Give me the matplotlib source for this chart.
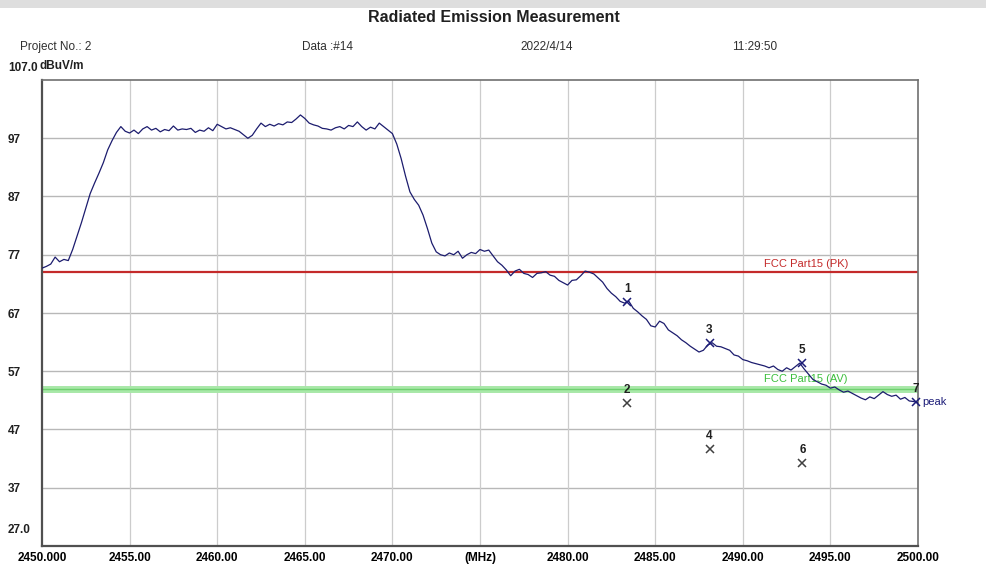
import numpy as np
import matplotlib
matplotlib.use("Agg")
import matplotlib.pyplot as plt
from matplotlib.patches import Rectangle
from matplotlib.transforms import blended_transform_factory

plt.rcParams['font.family'] = ['Liberation Sans', 'DejaVu Sans']

# sweep: 2450 - 2500 MHz, 0.25 MHz steps
freq = np.arange(2450.0, 2500.01, 0.25)
level = [
    74.7, 75.0, 75.4, 76.6, 75.8, 76.2, 76.0, 77.9, 80.2, 82.5,
    85.0, 87.5, 89.3, 91.0, 92.8, 95.0, 96.6, 98.0, 99.0, 98.2,
    97.9, 98.4, 97.8, 98.6, 99.0, 98.4, 98.7, 98.1, 98.5, 98.3,
    99.1, 98.4, 98.6, 98.5, 98.7, 98.0, 98.4, 98.2, 98.8, 98.3,
    99.4, 99.0, 98.6, 98.8, 98.5, 98.2, 97.6, 97.0, 97.5, 98.6,
    99.6, 99.0, 99.4, 99.1, 99.5, 99.3, 99.8, 99.7, 100.3, 101.0,
    100.4, 99.6, 99.3, 99.1, 98.7, 98.6, 98.4, 98.8, 99.0, 98.6,
    99.2, 99.0, 99.8, 99.0, 98.4, 98.9, 98.6, 99.6, 99.0, 98.4,
    97.8, 96.0, 93.5, 90.5, 87.8, 86.5, 85.5, 83.8, 81.5, 79.0,
    77.5, 77.0, 76.8, 77.3, 77.0, 77.6, 76.4, 77.0, 77.4, 77.2,
    77.9, 77.6, 77.8, 76.8, 75.8, 75.2, 74.4, 73.4, 74.2, 74.5,
    73.8, 73.6, 73.1, 73.8, 73.9, 74.1, 73.5, 73.3, 72.6, 72.2,
    71.8, 72.6, 72.7, 73.4, 74.2, 74.0, 73.7, 73.0, 72.3, 71.2,
    70.4, 69.8, 69.0, 68.7, 69.0, 67.8, 67.2, 66.5, 65.9, 64.8,
    64.6, 65.6, 65.2, 64.1, 63.6, 63.1, 62.4, 61.9, 61.3, 60.8,
    60.3, 60.6, 61.5, 61.9, 61.3, 61.2, 60.9, 60.6, 59.8, 59.6,
    59.0, 58.8, 58.5, 58.3, 58.1, 57.9, 57.6, 57.9, 57.3, 57.0,
    57.6, 57.2, 57.8, 58.4, 57.4, 56.5, 55.6, 55.2, 54.8, 54.6,
    54.1, 54.3, 53.8, 53.4, 53.6, 53.2, 52.8, 52.4, 52.1, 52.6,
    52.3, 52.9, 53.5, 53.0, 52.7, 52.9, 52.2, 52.5, 51.9, 51.8,
    51.6,
]

# limits
pk_limit = 74
av_limit = 54

# markers
mark_no = ["1", "2", "3", "4", "5", "6", "7"]
mark_freq = [2483.4, 2483.4, 2488.1, 2488.1, 2493.4, 2493.4, 2499.9]
mark_level = [68.9, 51.5, 61.8, 43.6, 58.4, 41.2, 51.7]
mark_color = ["#1c1c78", "#404040", "#1c1c78", "#404040", "#1c1c78", "#404040", "#1c1c78"]

x_ticks = [2450, 2455, 2460, 2465, 2470, 2475, 2480, 2485, 2490, 2495, 2500]
x_labels = ["2450.000", "2455.00", "2460.00", "2465.00", "2470.00", "(MHz)",
            "2480.00", "2485.00", "2490.00", "2495.00", "2500.00"]
y_ticks = [37, 47, 57, 67, 77, 87, 97]

fig = plt.figure(figsize=(9.87, 5.67), dpi=100)
fig.patch.set_facecolor("white")
fig.patches.append(Rectangle((0, 1 - 8 / 567), 1, 8 / 567, transform=fig.transFigure,
                             facecolor="#dedede", edgecolor="none"))

ax = fig.add_axes([42 / 987, 21 / 567, 876 / 987, 466 / 567])
ax.set_xlim(2450, 2500)
ax.set_ylim(27, 107)

for y in y_ticks:
    ax.axhline(y, color="#b8b8b8", lw=1.0, zorder=1)
for x in x_ticks[1:-1]:
    ax.axvline(x, color="#cccccc", lw=0.9, zorder=1)

ax.axhline(av_limit, color="#a8e8a8", lw=5, zorder=2)
ax.axhline(av_limit, color="#6fd06f", lw=1.0, zorder=2)
ax.axhline(pk_limit, color="#c42a2a", lw=1.6, zorder=2)
ax.text(2493.6, pk_limit + 0.6, "FCC Part15 (PK)", color="#c42a2a", fontsize=8,
        ha="center", va="bottom", zorder=3)
ax.text(2493.6, av_limit + 0.8, "FCC Part15 (AV)", color="#3cbf3c", fontsize=8,
        ha="center", va="bottom", zorder=3)

ax.plot(freq, level, color="#1c1c6e", lw=0.9, zorder=4)

for n, f, v, c in zip(mark_no, mark_freq, mark_level, mark_color):
    ax.plot(f, v, marker="x", color=c, ms=6, mew=1.1, zorder=5, clip_on=False)
    ax.annotate(n, (f, v), xytext=(0, 5), textcoords="offset points", ha="center",
                va="bottom", fontsize=8.5, fontweight="bold", color="#202020",
                annotation_clip=False)
ax.annotate("peak", (mark_freq[-1], mark_level[-1]), xytext=(4, 0), textcoords="offset points",
            ha="left", va="center", fontsize=8, color="#1c1c78", annotation_clip=False)

ax.set_xticks(x_ticks)
ax.set_xticklabels(x_labels, fontsize=8.5, fontweight="bold")
ax.set_yticks([])
ax.tick_params(length=0, pad=4)

# y labels sit at the far left, left-aligned
ylab_tr = blended_transform_factory(fig.transFigure, ax.transData)
for y in y_ticks:
    ax.text(8 / 987, y - 0.3, str(y), transform=ylab_tr, ha="left", va="center",
            fontsize=8.5, fontweight="bold", color="#202020", clip_on=False)

for side in ["left", "bottom"]:
    ax.spines[side].set_color("#505050")
    ax.spines[side].set_linewidth(1.6)
for side in ["top", "right"]:
    ax.spines[side].set_color("#707070")
    ax.spines[side].set_linewidth(1.2)

fig.text(0.5, 1 - 17 / 567, "Radiated Emission Measurement", ha="center", va="center",
         fontsize=11.5, fontweight="bold", color="#202020")
fig.text(20 / 987, 1 - 47 / 567, "Project No.: 2", fontsize=8.5, va="center", color="#303030")
fig.text(302 / 987, 1 - 47 / 567, "Data :#14", fontsize=8.5, va="center", color="#303030")
fig.text(520 / 987, 1 - 47 / 567, "2022/4/14", fontsize=8.5, va="center", color="#303030")
fig.text(732 / 987, 1 - 47 / 567, "11:29:50", fontsize=8.5, va="center", color="#303030")
fig.text(8 / 987, 1 - 68 / 567, "107.0", fontsize=8.5, fontweight="bold", va="center", color="#202020")
fig.text(40 / 987, 1 - 66 / 567, "dBuV/m", fontsize=8.5, fontweight="bold", va="center", color="#202020")
fig.text(8 / 987, 1 - 530 / 567, "27.0", fontsize=8.5, fontweight="bold", va="center", color="#202020")

fig.savefig("out.png", dpi=100)
